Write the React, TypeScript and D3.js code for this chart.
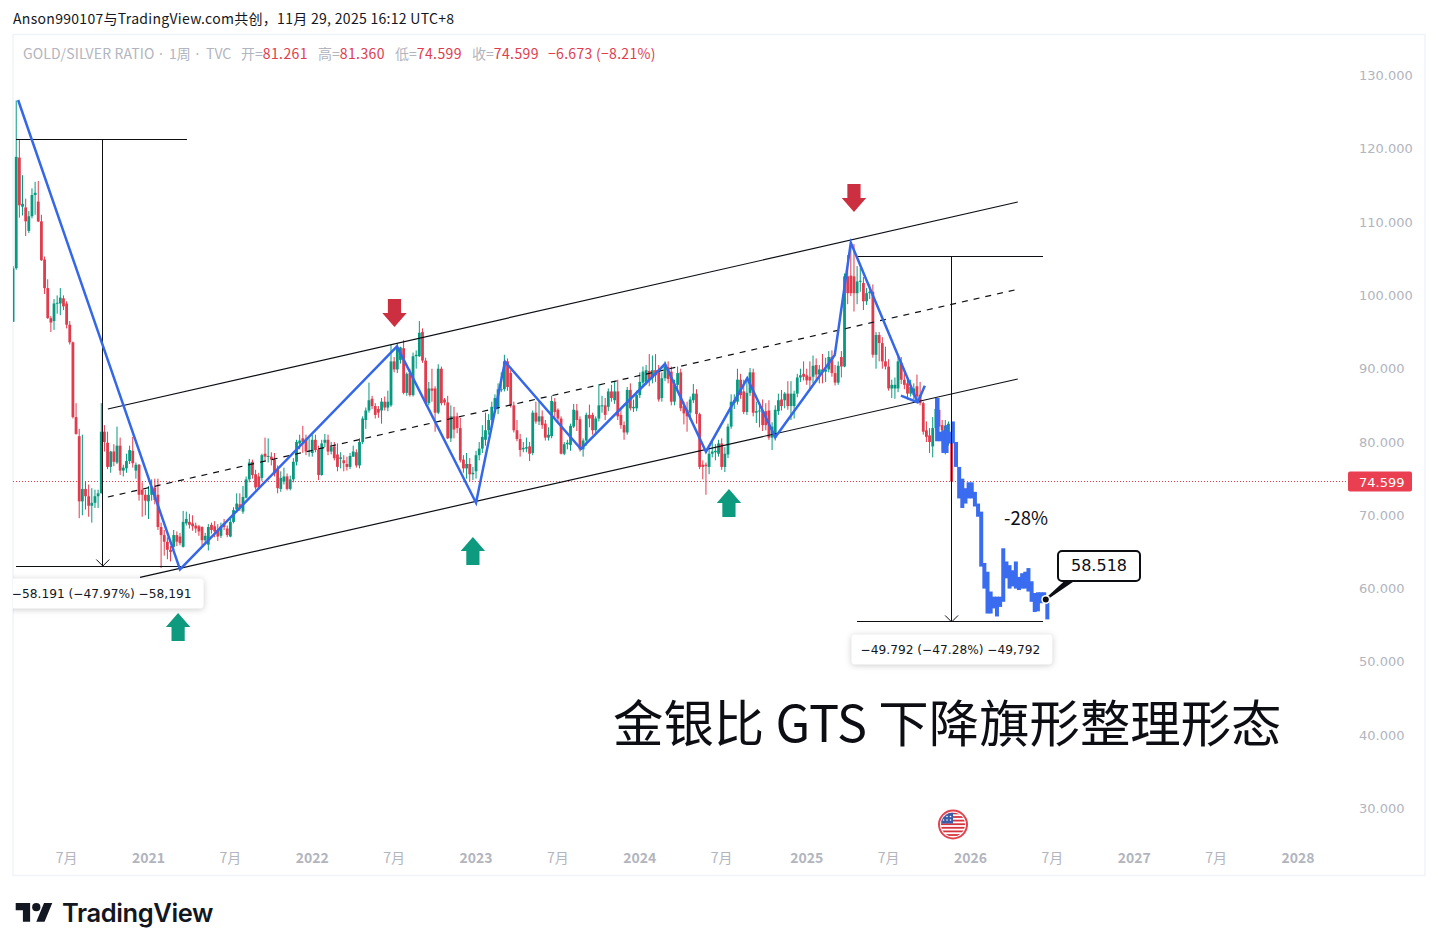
import * as d3 from 'd3';

const WIDTH = 1438;
const HEIGHT = 951;
const FONT = '"DejaVu Sans", "Noto Sans CJK SC", sans-serif';
const CJK = '"Noto Sans CJK SC", "Noto Sans", sans-serif';
const GREEN = '#089981';
const RED = '#e13c4e';
const BLUE = '#3568e8';
const GREY = '#b2b5be';
const INK = '#0c0e14';

const priceTicks = [130, 120, 110, 100, 90, 80, 70, 60, 50, 40, 30];
const timeLabels = ['7月', '2021', '7月', '2022', '7月', '2023', '7月', '2024', '7月', '2025', '7月', '2026', '7月', '2027', '7月', '2028'];
const timeWeeks = [-26, 0, 26, 52, 78, 104, 130, 156, 182, 209, 235, 261, 287, 313, 339, 365];

// weekly candles, week 0 = first week of 2021
const firstWeek = -43;
const opens = [
  96.4, 103.7, 118.8, 112.1, 112.0, 108.8, 110.8, 113.7, 112.8, 110.1,
  104.9, 101, 96.9, 96.5, 98.9, 98.9, 99.6, 98.9, 96, 93.6,
  83.4, 80.8, 71.9, 73.6, 72.6, 71.3, 71.7, 72.6, 73, 81.4,
  79.9, 76.6, 78.7, 77.2, 79.5, 76.1, 76.4, 77.4, 78.8, 76.1,
  76.9, 73.5, 72.8, 71.9, 72.8, 73.8, 72.8, 68.4, 67.3, 66.4,
  65.3, 65.7, 67.3, 67.1, 65.7, 68.9, 69.1, 68.9, 68.6, 68.5,
  68.4, 66.6, 66, 68.7, 68.5, 68, 67.2, 68.9, 68.2, 67.1,
  69.1, 70.8, 71.5, 70.5, 72.4, 74.9, 77.3, 75.6, 75.3, 75.1,
  78.4, 78, 78, 77.6, 76.3, 73.6, 74.6, 75.3, 73.6, 74.9,
  77.3, 79.8, 80.5, 80.3, 78.7, 78.5, 80.3, 79, 75.5, 79.9,
  80.3, 78.7, 79.4, 78.3, 77.7, 77.5, 77, 76.6, 78, 78.6,
  76.8, 80, 83, 84.3, 85.9, 84.9, 84.5, 84.3, 85.5, 84.7,
  85, 91, 89.9, 91.2, 92.8, 86.7, 89.4, 86.4, 91.7, 91.7,
  95, 91.1, 85.3, 87.3, 87.3, 84, 90, 85.8, 85.4, 80.5,
  83.5, 83.5, 81.9, 77.6, 76.4, 77, 75.6, 76, 78.2, 79.1,
  80.3, 81.6, 83, 84.6, 84.6, 87.2, 87.2, 91, 89.4, 85,
  81.6, 80.4, 79, 79.1, 79.4, 78.5, 84, 82.8, 83.5, 82.5,
  80.6, 80.8, 85.5, 84.4, 83.2, 78.4, 79.7, 79.6, 82.1, 84.3,
  83.1, 79, 80.2, 83.7, 83.7, 81.6, 83.2, 85, 85, 84.8,
  86.9, 85.7, 86.9, 83.7, 82.3, 81.3, 87.1, 84.6, 84.6, 86.4,
  88.1, 88.2, 89.7, 88.7, 89.8, 89.7, 86, 88.7, 90.2, 89.6,
  85.5, 87.8, 89.5, 84.9, 84.4, 84, 85.7, 86.6, 83.8, 76.9,
  76.9, 76.6, 78.4, 78.6, 78.4, 79.8, 76.6, 78.3, 82.1, 85.3,
  85.5, 88.5, 86.9, 84.1, 86.7, 89.5, 84, 84.2, 84.3, 84.2,
  84.3, 80.6, 80.6, 84.2, 85.8, 85.7, 86.6, 84.9, 84.9, 86.6,
  88.8, 89.3, 89.1, 88.9, 88.9, 90.5, 89.2, 89.9, 89.6, 89.9,
  91.6, 89.4, 88.1, 91.6, 90.3, 102.6, 102.7, 102.6, 100.3, 101.9,
  101.7, 99.2, 100.3, 100.5, 91.9, 94.6, 93.5, 91, 90.3, 87.3,
  87.3, 87.3, 90.8, 88.5, 88, 86.6, 86.4, 87.6, 86.4, 85.3,
  81.6, 80.9, 79.4, 81.9, 84.4, 82.3, 79.8, 81.3, 81.26,
];
const highs = [
  104, 126.6, 121.2, 116.4, 113.2, 111.5, 114.6, 115.5, 115.6, 111,
  105.3, 102.2, 97.2, 99.5, 100, 101, 100, 99.2, 96.5, 93.7,
  85.3, 81.8, 81, 74.6, 74.2, 73.7, 73.5, 73.5, 85.3, 82.3,
  81.4, 78.8, 79.7, 82.1, 80.6, 76.9, 78.4, 79.5, 80.7, 77.2,
  77, 74.5, 73.5, 74, 74.9, 75, 75, 69, 68, 67,
  65.8, 68, 67.8, 67.6, 70.6, 70.5, 70.2, 70, 69, 68.7,
  68.5, 67.6, 68.8, 69, 69.2, 68.8, 69, 69.5, 68.6, 69.5,
  71.1, 73, 73, 74, 75.3, 77.7, 77.6, 76.2, 75.8, 78.4,
  80.6, 80.5, 78.6, 78.5, 76.8, 76, 76.5, 75.7, 75.4, 77.8,
  80.3, 81, 82.2, 81, 80.5, 81, 81, 79.5, 80.3, 81.1,
  81, 80, 80, 79.8, 78.6, 78.2, 78, 78.5, 79.5, 79,
  80.5, 83.5, 84.7, 88.1, 86.3, 85.3, 84.9, 86, 86.2, 87,
  93.3, 91.6, 93.5, 93, 93.9, 89.5, 90, 92.2, 92.5, 96.5,
  95.5, 91.5, 88.2, 90, 87.6, 90.6, 90.3, 86, 86.3, 85,
  84.8, 84, 83.3, 78.2, 78.5, 77.8, 76.6, 78.8, 80, 82.3,
  84, 83.8, 85.5, 86.5, 88, 89.5, 91.9, 91.4, 89.8, 85.5,
  83, 81.1, 80, 80.6, 80, 84.3, 85.5, 85.5, 84.3, 83,
  82, 86.3, 86, 84.6, 83.5, 80, 80.3, 82.5, 85.2, 85.2,
  83.5, 80.5, 84, 85.1, 84, 83.5, 87.9, 86.3, 86, 87.3,
  87.8, 88.3, 88.5, 84.5, 82.8, 87.5, 88, 85.8, 87, 89.5,
  90.3, 90.5, 92, 91.8, 92, 90.5, 89.5, 91, 91, 90.3,
  88.5, 90.3, 90, 85.5, 85.5, 86.2, 87.9, 87.2, 84, 77.5,
  77.2, 79, 80, 79.7, 80.3, 80.5, 79.3, 82.5, 86.5, 86.5,
  90, 89.3, 88.5, 88.6, 90.1, 90, 85.5, 85, 85.8, 85.3,
  85.7, 82.7, 85, 86.6, 87.1, 86.8, 88.3, 88.3, 87, 89.3,
  90, 91, 90, 91, 91.8, 91.4, 90.5, 92, 91.5, 92.4,
  92.5, 90.5, 91, 92.4, 103, 105.5, 107, 107, 104, 103.8,
  102.5, 101, 101.5, 101.5, 95, 95, 94.3, 93, 91.3, 88.5,
  88.8, 91.6, 91.6, 90, 88.7, 88.5, 88, 89.2, 88.2, 85.5,
  82.8, 81.9, 83.4, 86, 86, 83, 83, 82.8, 81.36,
];
const lows = [
  96.4, 103.5, 110.6, 110.9, 108.1, 108.5, 110.5, 111, 110, 104.7,
  100.2, 96.8, 95, 95.3, 97.5, 97.3, 98, 95.5, 93.3, 83.2,
  81, 69.6, 70, 70.8, 69.8, 69, 71, 71, 73, 78.7,
  76.3, 75.8, 76.7, 77, 75.5, 75.3, 75.8, 77, 76.5, 75,
  72, 69.8, 70, 69.5, 72, 71.5, 68, 62.8, 64.5, 64,
  63.7, 65.2, 65.8, 65.9, 65.6, 68.6, 68.2, 67.9, 67.6, 67.2,
  65.9, 66.2, 65.2, 67.5, 67, 66.5, 66.9, 68, 67, 67,
  68.9, 70.4, 70.6, 70.2, 72.3, 74.5, 75, 73.5, 73.5, 74.7,
  77.3, 77.2, 76.8, 75.3, 73, 73.2, 74.2, 73.4, 73.4, 74.5,
  76.8, 79, 78.5, 78.2, 78, 78, 78.6, 74.8, 75.4, 79.3,
  78.2, 78.3, 77.5, 76, 76.4, 76, 76.1, 76.3, 78, 76.5,
  76.4, 79.7, 81.8, 84, 84.5, 83.2, 83.3, 82.5, 84.3, 84.2,
  84.8, 89.5, 89.4, 90.7, 86.5, 86.3, 86.2, 86.2, 90, 91.6,
  90.8, 85, 85, 85.5, 81.4, 83.8, 85, 85, 80.4, 80,
  80.5, 81.2, 77.2, 75.8, 75, 74.6, 74.8, 75, 77.5, 78.5,
  79.5, 81, 82, 84, 83.8, 86.8, 86.9, 87, 84.7, 81.3,
  80.1, 78, 78.6, 78.6, 77.4, 78.2, 82.5, 82.3, 81.8, 80.2,
  80.2, 80.5, 83, 82.5, 78.3, 78.2, 79, 78.8, 81.9, 81.5,
  78.7, 78, 79.5, 82, 81, 81, 82.8, 84, 83, 84.2,
  85.5, 85.2, 83, 81.8, 80.3, 81, 84.3, 84.1, 84.2, 86,
  87.6, 87.8, 87.6, 88, 88.2, 85.5, 85.5, 88.3, 88, 85,
  85, 87, 84.2, 82.4, 81.4, 83, 85.3, 82.5, 76.3, 74.9,
  72.8, 75.6, 77.9, 77.5, 78, 76.2, 75.9, 77.8, 81.8, 84.5,
  85.1, 85.9, 83.8, 83.7, 86.3, 83.5, 82.6, 82, 81.5, 81.6,
  80.3, 78.9, 80.2, 83.7, 84.3, 84.6, 84.4, 83, 83.2, 86.1,
  88.2, 88.4, 87.8, 87, 88, 88.5, 88, 88, 88.2, 89.5,
  88.9, 87.7, 87.8, 88.8, 90.2, 98.8, 99.9, 97.8, 98.8, 100.5,
  98, 98.7, 99.5, 91.5, 90, 91, 90, 89.9, 87, 86,
  85.9, 86.8, 87.9, 87.2, 85.8, 86.2, 85.8, 85.7, 85, 81,
  80, 78.5, 77.9, 81.5, 80.8, 78.8, 78.3, 79.5, 74.599,
];
const closes = [
  103.7, 118.9, 112.3, 112.5, 110.1, 110.8, 113.7, 114, 110.1, 104.8,
  101, 96.9, 96.3, 98.9, 99, 99.7, 98.5, 96, 93.6, 83.4,
  81.1, 71.9, 73.6, 72.6, 71.3, 71.7, 72.6, 73, 81.4, 80,
  76.6, 78.7, 77.3, 79.5, 76.1, 76.5, 77.4, 78.9, 77.1, 76.9,
  72.8, 72.8, 72, 72.8, 73.9, 72.1, 68.4, 67.3, 66.4, 65.3,
  65, 67.3, 66.4, 66.2, 69.1, 69.5, 68.7, 68.5, 68.2, 67.8,
  66.6, 67.2, 68.4, 68, 67.8, 67.1, 68.5, 68.4, 67.3, 69.1,
  70.7, 71.6, 71, 72.5, 74.9, 77.2, 75.5, 73.8, 73.8, 78.2,
  78, 78.1, 77.6, 75.7, 73.7, 75.1, 75.3, 73.6, 74.9, 77.3,
  80, 80.2, 80, 78.7, 78.8, 80.3, 78.9, 75.5, 79.8, 80.3,
  78.7, 79.3, 77.8, 76.6, 77.9, 77.1, 76.6, 78.1, 78.7, 76.8,
  80, 83.2, 84.3, 85.7, 84.9, 83.7, 84, 85.5, 84.7, 85.5,
  91, 89.9, 92.8, 92.9, 86.7, 89.3, 86.4, 91.7, 91.9, 94.9,
  91.1, 85.3, 87.3, 87, 84, 90, 85.3, 85.4, 80.5, 83.5,
  81.7, 81.9, 77.5, 76.4, 77, 75.6, 75.8, 78.2, 79.1, 80.7,
  81.6, 83, 84.8, 86, 87.2, 87.2, 91, 87.5, 85, 81.6,
  80.4, 78.9, 79.2, 79.3, 78.4, 84, 82.8, 83.5, 82.3, 80.6,
  81, 85.6, 84.1, 83.2, 78.4, 79.7, 79.9, 82.2, 84.4, 83,
  79, 80.2, 83.7, 83.2, 81.6, 83.2, 85, 85, 83.7, 86.9,
  86, 86.9, 83.5, 82.3, 81.3, 87.1, 84.6, 84.8, 86.4, 88.2,
  89.6, 89.8, 88.5, 89.8, 89.1, 85.8, 88.7, 90.3, 88.6, 85.5,
  87.8, 89.4, 84.6, 83.9, 83.5, 85.8, 86.6, 83.8, 76.6, 76.6,
  76.7, 78.4, 78.7, 78.8, 79.8, 76.6, 78.4, 82.1, 85.5, 85.7,
  88.5, 86.4, 84.1, 86.7, 89.5, 84, 84.2, 84.3, 82.3, 82.3,
  80.6, 82.1, 84.4, 85.7, 84.9, 86.6, 84.9, 86.6, 86.6, 88.8,
  89.1, 88.9, 88.4, 88.4, 90.4, 89.2, 89.9, 89.6, 89.9, 91.6,
  89.4, 88.1, 90.4, 90.3, 102.6, 100.3, 100.3, 100.3, 101.9, 102,
  99.2, 100.3, 100.5, 91.9, 94.6, 93.5, 91, 90.3, 87.3, 87.8,
  87.8, 91, 88.5, 87.8, 86.6, 87.5, 87.3, 86.2, 85.3, 81.4,
  80.7, 80, 81.9, 84.5, 82.1, 81.6, 82.2, 82.5, 74.599,
];

// hand-drawn projection bars
const projFirstWeek = 250.4;
const projTops = [
  86, 81.4, 81.6, 82.3, 81.4, 82.8, 80, 76.6, 75, 73.7, 74.5, 74.5,
  73.2, 71.6, 70.5, 63.5, 62.3, 59.6, 58.9, 58.9, 58.9, 65.5, 63.7, 63.2,
  62.5, 63.7, 61.6, 62.1, 62.3, 62.8, 61, 59.4, 59.5, 59.5, 59.5, 58.5,
];
const projBottoms = [
  80.1, 80.1, 78.5, 78.5, 79.8, 79.8, 76.6, 72.3, 71, 71.6, 72.3, 72.3,
  71.2, 69.8, 63, 60, 56.6, 56.6, 57.3, 56.2, 57.5, 58.2, 61.4, 60,
  60.3, 60, 59.8, 60, 60, 59.6, 58.2, 56.8, 56.9, 58, 58.2, 55.8,
];

const zigzagWeeks = [-41.4, 10, 78.9, 104, 113.2, 137.3, 164, 177, 190.1, 199, 217.9, 223, 244.2];
const zigzagValues = [126.66, 62.63, 93.03, 71.72, 90.95, 79.05, 90.64, 78.68, 88.69, 80.64, 91.87, 107.19, 85.42];
const arrowTipWeeks = [238.9, 244.2, 246.5];
const arrowTipValues = [86.32, 85.42, 87.68];

const channelStartWeeks = [-12.9, -12.9, -2.7];
const channelStartValues = [84.5, 72.5, 61.54];
const channelEndWeeks = [276, 275, 276];
const channelEndValues = [112.74, 100.74, 88.6];
const channelDash = ['', '6 6', ''];

const lastPrice = 74.599;
const measureTop = [121.27, 105.24];
const measureBottom = [63.08, 55.45];
const measureFrom = [-42.1, 224.9];
const measureTo = [12.2, 284];
const measureBottomTo = [10.3, 284];
const measureAt = [-14.5, 255];
const measureText = ['−58.191 (−47.97%) −58,191', '−49.792 (−47.28%) −49,792'];

const markWeeks = [78.1, 224, 9.4, 103, 184.3];
const markValues = [95.69, 111.38, 56.67, 67.04, 73.59];
const markUp = [false, false, true, true, true];

const calloutWeek = 284.9;
const calloutValue = 58.518;

const x = d3.scaleLinear().domain([0, 261]).range([148.5, 970.5]);
const y = d3.scaleLinear().domain([30, 130]).range([808.5, 75.5]);

const pathFrom = (ws: number[], vs: number[]) =>
  d3.line<number>().x((w) => x(w)).y((_, i) => y(vs[i]))(ws) ?? '';

const Candles = () => (
  <g clipPath="url(#plot)">
    {closes.map((c, i) => {
      const o = opens[i];
      const cx = x(firstWeek + i);
      const color = c >= o ? GREEN : RED;
      const top = y(Math.max(o, c));
      const h = Math.max(1, y(Math.min(o, c)) - top);
      return (
        <g key={i}>
          <line x1={cx} x2={cx} y1={y(highs[i])} y2={y(lows[i])} stroke={color} strokeWidth={1} />
          <rect x={cx - 1.4} y={top} width={2.8} height={h} fill={color} />
        </g>
      );
    })}
  </g>
);

const Arrow = ({ week, value, up }: { week: number; value: number; up: boolean }) => {
  const cx = x(week);
  const tip = y(value);
  const dir = up ? 1 : -1;
  const pts = [
    [cx, tip],
    [cx + 12.2, tip + dir * 14],
    [cx + 6.6, tip + dir * 14],
    [cx + 6.6, tip + dir * 28],
    [cx - 6.6, tip + dir * 28],
    [cx - 6.6, tip + dir * 14],
    [cx - 12.2, tip + dir * 14],
  ];
  return <polygon points={pts.join(' ')} fill={up ? '#0d9a7e' : '#cc2f3f'} />;
};

const UsFlag = ({ cx, cy }: { cx: number; cy: number }) => (
  <g>
    <clipPath id="flag">
      <circle cx={cx} cy={cy} r={12} />
    </clipPath>
    <circle cx={cx} cy={cy} r={15} fill="#e2434f" />
    <circle cx={cx} cy={cy} r={13} fill="#fff" />
    <g clipPath="url(#flag)">
      <rect x={cx - 12} y={cy - 12} width={24} height={24} fill="#fff" />
      {d3.range(0, 7).map((k) => (
        <rect key={k} x={cx - 12} y={cy - 12 + k * 3.6} width={24} height={1.8} fill="#d8323f" />
      ))}
      <rect x={cx - 12} y={cy - 12} width={12} height={11} fill="#3a5da8" />
      {d3.range(0, 6).map((k) => (
        <circle key={k} cx={cx - 9.5 + (k % 3) * 3.5} cy={cy - 8 + Math.floor(k / 3) * 3.5} r={0.8} fill="#fff" />
      ))}
    </g>
  </g>
);

export default function App() {
  const calloutX = x(calloutWeek);
  const calloutY = y(calloutValue);
  return (
    <svg
      width={WIDTH}
      height={HEIGHT}
      style={{ position: 'absolute', left: 0, top: 0, display: 'block', background: '#fff' }}
      fontFamily={FONT}
    >
      <defs>
        <clipPath id="plot">
          <rect x={13} y={35} width={1335} height={800} />
        </clipPath>
        <clipPath id="frame">
          <rect x={13} y={35} width={1412} height={840} />
        </clipPath>
      </defs>

      <text x={13} y={24} fontSize={14} fill="#131722" fontFamily={CJK} letterSpacing={0.3}>
        Anson990107与TradingView.com共创，11月 29, 2025 16:12 UTC+8
      </text>
      <rect x={13} y={34.5} width={1412} height={841} fill="none" stroke="#f0f3fa" strokeWidth={1.5} />

      <text y={59} fontSize={14} fill={GREY} fontFamily={CJK}>
        <tspan x={23} letterSpacing={0.15}>GOLD/SILVER RATIO</tspan>
        <tspan x={159} fontFamily='"Noto Sans", sans-serif'>·</tspan>
        <tspan x={169}>1周</tspan>
        <tspan x={195.5} fontFamily='"Noto Sans", sans-serif'>·</tspan>
        <tspan x={206}>TVC</tspan>
        <tspan x={241}>开=</tspan>
        <tspan fill={RED} letterSpacing={0.4}>81.261</tspan>
        <tspan x={318}>高=</tspan>
        <tspan fill={RED} letterSpacing={0.4}>81.360</tspan>
        <tspan x={395}>低=</tspan>
        <tspan fill={RED} letterSpacing={0.4}>74.599</tspan>
        <tspan x={472}>收=</tspan>
        <tspan fill={RED} letterSpacing={0.4}>74.599</tspan>
        <tspan x={548} fill={RED} letterSpacing={0.3}>−6.673 (−8.21%)</tspan>
      </text>

      {priceTicks.map((t) => (
        <text key={t} x={1359} y={y(t) + 4.5} fontSize={13} fill={GREY}>
          {t.toFixed(3)}
        </text>
      ))}
      {timeLabels.map((t, i) => (
        <text
          key={i}
          x={x(timeWeeks[i])}
          y={863}
          textAnchor="middle"
          fontSize={14}
          fontWeight={t.length > 2 ? 700 : 400}
          fill={GREY}
          fontFamily={CJK}
        >
          {t}
        </text>
      ))}

      <line
        x1={13}
        x2={1348}
        y1={y(lastPrice)}
        y2={y(lastPrice)}
        stroke={RED}
        strokeWidth={1}
        strokeDasharray="1 2"
        shapeRendering="crispEdges"
      />
      <rect x={1348} y={y(lastPrice) - 10} width={64} height={20} rx={2} fill="#ea3f50" />
      <text x={1359} y={y(lastPrice) + 5} fontSize={13} fill="#fff">
        {lastPrice.toFixed(3)}
      </text>

      <Candles />

      {projTops.map((t, k) => (
        <rect
          key={k}
          x={x(projFirstWeek + k) - 2}
          y={y(t)}
          width={4}
          height={y(projBottoms[k]) - y(t)}
          fill="#3a6cf0"
        />
      ))}

      {channelStartWeeks.map((w, i) => (
        <line
          key={i}
          x1={x(w)}
          y1={y(channelStartValues[i])}
          x2={x(channelEndWeeks[i])}
          y2={y(channelEndValues[i])}
          stroke={INK}
          strokeWidth={1.2}
          strokeDasharray={channelDash[i]}
        />
      ))}

      <g clipPath="url(#frame)">
        {measureAt.map((w, i) => {
          const cx = x(w);
          const bottom = y(measureBottom[i]);
          return (
            <g key={i} stroke={INK} strokeWidth={1} fill="none">
              <g shapeRendering="crispEdges">
                <line x1={x(measureFrom[i])} x2={x(measureTo[i])} y1={y(measureTop[i])} y2={y(measureTop[i])} />
                <line x1={x(measureFrom[i])} x2={x(measureBottomTo[i])} y1={bottom} y2={bottom} />
                <line x1={cx} x2={cx} y1={y(measureTop[i])} y2={bottom} />
              </g>
              <path d={`M${cx - 6.5},${bottom - 6.5}L${cx},${bottom}L${cx + 6.5},${bottom - 6.5}`} />
            </g>
          );
        })}
        <path d={pathFrom(zigzagWeeks, zigzagValues)} fill="none" stroke={BLUE} strokeWidth={2.5} />
        <path d={pathFrom(arrowTipWeeks, arrowTipValues)} fill="none" stroke={BLUE} strokeWidth={2.5} />

        {measureAt.map((w, i) => {
          const cx = x(w) - 1.2;
          const top = y(measureBottom[i]) + 12.5;
          return (
            <g key={i}>
              <rect
                x={cx - 99}
                y={top}
                width={201}
                height={30}
                rx={4}
                fill="#fff"
                style={{ filter: 'drop-shadow(0 1px 3px rgba(0,0,0,0.2))' }}
              />
              <text x={cx} y={top + 19.5} textAnchor="middle" fontSize={12.2} fill="#131722">
                {measureText[i]}
              </text>
            </g>
          );
        })}
      </g>

      {markWeeks.map((w, i) => (
        <Arrow key={i} week={w} value={markValues[i]} up={markUp[i]} />
      ))}

      <text x={1004} y={525} fontSize={18.5} fill={INK} fontFamily={CJK}>-28%</text>

      <path
        d={`M${calloutX},${calloutY}L1067,580L1074,580Z`}
        fill={INK}
        stroke={INK}
        strokeWidth={2}
      />
      <rect x={1058} y={551} width={82} height={30} rx={4} fill="#fff" stroke={INK} strokeWidth={2} />
      <text x={1099} y={570.5} textAnchor="middle" fontSize={16} fill={INK}>
        {calloutValue.toFixed(3)}
      </text>
      <circle cx={calloutX} cy={calloutY} r={4.5} fill="#fff" />
      <circle cx={calloutX} cy={calloutY} r={3} fill={INK} />

      <text x={613} y={742} fontSize={50.4} fill={INK} fontFamily={CJK}>
        金银比 GTS 下降旗形整理形态
      </text>

      <UsFlag cx={953} cy={824.5} />

      <g transform="translate(15.7,899) scale(1.03)" fill="#131722">
        <path d="M14 22H7V11H0V4h14v18ZM28 22h-8l7.5-18h8L28 22Z" />
        <circle cx={20} cy={8} r={4} />
      </g>
      <text x={62} y={922} fontSize={25.5} fontWeight={600} fill="#131722" fontFamily="Inter, sans-serif" letterSpacing={-0.4}>
        TradingView
      </text>
    </svg>
  );
}
